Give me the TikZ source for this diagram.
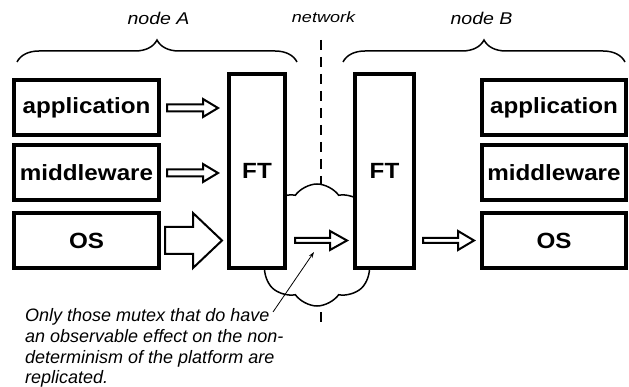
\documentclass[tikz,border=0pt]{standalone}
\usepackage{fontspec}
\setmainfont{Liberation Sans}
\newfontfamily\bxfont[FakeStretch=1.1]{Liberation Sans}
\newfontfamily\lblfont[FakeStretch=1.15]{Liberation Sans}
\newfontfamily\netfont[FakeStretch=1.2]{Liberation Sans}
\usetikzlibrary{calc,shapes.symbols,decorations.pathreplacing,arrows.meta}
\newcommand\hollowarr[5]{%
  \draw[harr] ($(#1)+(0,-#3)$) -- ($(#2)+(-#5,-#3)$) -- ($(#2)+(-#5,-#4)$) -- (#2)
    -- ($(#2)+(-#5,#4)$) -- ($(#2)+(-#5,#3)$) -- ($(#1)+(0,#3)$) -- cycle;}
\begin{document}
\begin{tikzpicture}[x=1pt,y=-1pt,
  box/.style={draw, line width=4pt, fill=white, inner sep=0pt,
    font={\bxfont\bfseries\fontsize{22pt}{24pt}\selectfont}},
  layer/.style={box, minimum height=55pt},
  ftbox/.style={box, minimum height=194pt},
  harr/.style={draw, line width=2pt, fill=white, line join=miter},
  lbl/.style={anchor=base, inner sep=0pt, font={\lblfont\itshape\fontsize{17pt}{20pt}\selectfont}},
  netlbl/.style={anchor=base, inner sep=0pt, font={\netfont\itshape\fontsize{15pt}{18pt}\selectfont}},
  bracestyle/.style={decorate, decoration={brace, amplitude=22pt}, line width=1.5pt},
  netline/.style={line width=2.5pt, dash pattern=on 10pt off 7pt},
  cloudstyle/.style={cloud, draw, fill=white, line width=1.5pt, cloud puffs=8,
    cloud puff arc=110, minimum width=126pt, minimum height=122pt},
  note/.style={anchor=north west, inner sep=0pt, align=left,
    font={\itshape\fontsize{18pt}{20.7pt}\selectfont}},
  pointer/.style={line width=0.8pt, -{Stealth[length=6pt,width=4pt]}}
]
\useasboundingbox (0,0) rectangle (629,387);

% labels and braces
\node[lbl] (labA) at (158.5,25) {node A};
\node[lbl] (labB) at (481.5,25) {node B};
\node[netlbl] (labN) at (323.5,23) {network};
\coordinate (bA1) at (17,62);
\coordinate (bA2) at (297,62);
\coordinate (bB1) at (343,62);
\coordinate (bB2) at (625,62);
\draw[bracestyle] (bA1) -- (bA2);
\draw[bracestyle] (bB1) -- (bB2);

% network dashed line
\coordinate (nt) at (321,40);
\coordinate (nb) at (321,323);
\draw[netline] (nt) -- (nb);

% cloud
\node[cloudstyle] (cl) at (317,245) {};

% node A
\node[layer, minimum width=145pt] (appA) at (86.5,108) {application};
\node[layer, minimum width=145pt] (mwA) at (86.5,173) {middleware};
\node[layer, minimum width=145pt] (osA) at (86.5,240.5) {OS};
\node[ftbox, minimum width=56pt] (ftA) at (257,171) {FT};

% node B
\node[ftbox, minimum width=59pt] (ftB) at (384.5,171) {FT};
\node[layer, minimum width=144pt] (appB) at (554,108) {application};
\node[layer, minimum width=144pt] (mwB) at (554,173) {middleware};
\node[layer, minimum width=144pt] (osB) at (554,240.5) {OS};

% arrows
\coordinate (a1s) at ($(appA.east)+(6,0)$);
\coordinate (a1e) at ($(ftA.west |- appA.east)+(-9,0)$);
\hollowarr{a1s}{a1e}{3.5}{9}{15}
\coordinate (a2s) at ($(mwA.east)+(6,0)$);
\coordinate (a2e) at ($(ftA.west |- mwA.east)+(-9,0)$);
\hollowarr{a2s}{a2e}{3.5}{9}{15}
\coordinate (a3s) at ($(osA.east)+(4,0)$);
\coordinate (a3e) at ($(ftA.west |- osA.east)+(-5,0)$);
\hollowarr{a3s}{a3e}{13.5}{27.5}{29}
\coordinate (a4s) at ($(ftA.east |- osA.east)+(8,0)$);
\coordinate (a4e) at ($(ftB.west |- osA.east)+(-6,0)$);
\hollowarr{a4s}{a4e}{2.5}{9.5}{17}
\coordinate (a5s) at ($(ftB.east |- osB.west)+(7,0)$);
\coordinate (a5e) at ($(osB.west)+(-6,0)$);
\hollowarr{a5s}{a5e}{2.5}{9.5}{16}

% annotation
\node[note] (txt) at (25,308.5) {Only those mutex that do have\\an observable effect on the non-\\determinism of the platform are\\replicated.};
\coordinate (ps) at (273,312);
\coordinate (pe) at (314,252);
\draw[pointer] (ps) -- (pe);
\end{tikzpicture}
\end{document}
